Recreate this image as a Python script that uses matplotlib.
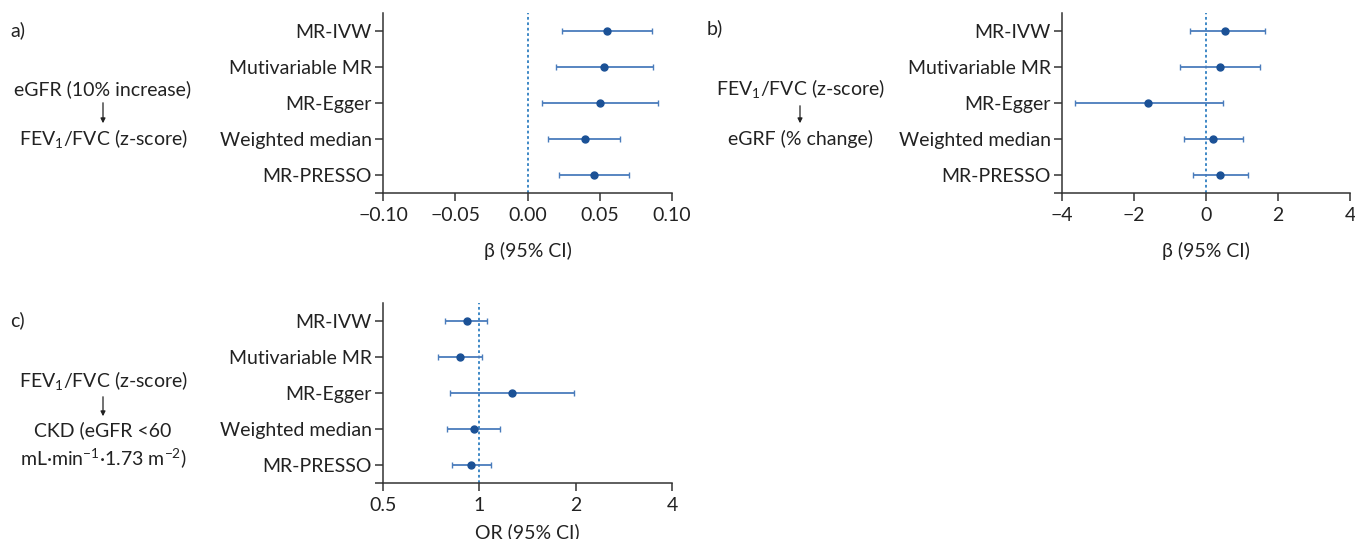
import matplotlib
matplotlib.use("Agg")
import matplotlib.pyplot as plt
import numpy as np

plt.rcParams["font.family"] = ["Lato", "DejaVu Sans"]
plt.rcParams["mathtext.fontset"] = "custom"
plt.rcParams["mathtext.rm"] = "Lato"
plt.rcParams["mathtext.it"] = "Lato:italic"
plt.rcParams["axes.unicode_minus"] = True

methods = ["MR-IVW", "Mutivariable MR", "MR-Egger", "Weighted median", "MR-PRESSO"]

# panel a: eGFR -> FEV1/FVC
a_est = [0.055, 0.053, 0.050, 0.040, 0.046]
a_lo = [0.024, 0.020, 0.010, 0.014, 0.022]
a_hi = [0.086, 0.087, 0.090, 0.064, 0.070]

# panel b: FEV1/FVC -> eGFR
b_est = [0.53, 0.38, -1.62, 0.20, 0.40]
b_lo = [-0.45, -0.72, -3.63, -0.61, -0.37]
b_hi = [1.63, 1.51, 0.46, 1.02, 1.17]

# panel c: FEV1/FVC -> CKD (odds ratio)
c_est = [0.916, 0.871, 1.268, 0.959, 0.939]
c_lo = [0.781, 0.742, 0.812, 0.792, 0.820]
c_hi = [1.055, 1.022, 1.980, 1.162, 1.091]

W, H = 1355, 539
fig = plt.figure(figsize=(W / 100, H / 100), dpi=100)

PT = "#1b5196"
BAR = "#4a7cbc"
REF = "#2f7fc1"
FS = 14


def px_axes(x0, y0, x1, y1):
    return fig.add_axes([x0 / W, 1 - y1 / H, (x1 - x0) / W, (y1 - y0) / H])


def ftext(x, y, s, **kw):
    fig.text(x / W, 1 - y / H, s, fontsize=FS, color="#222222",
             va="center", **kw)


def arrow(x, y0, y1):
    fig.add_artist(matplotlib.patches.FancyArrowPatch(
        (x / W, 1 - y0 / H), (x / W, 1 - y1 / H), transform=fig.transFigure,
        arrowstyle="-|>", mutation_scale=7, lw=0.9, color="#222222"))


def forest(ax, est, lo, hi, ref, xlabel):
    y = np.arange(len(methods))
    est = np.array(est)
    err = [est - np.array(lo), np.array(hi) - est]
    ax.axvline(ref, color=REF, ls=(0, (1.5, 1.5)), lw=1.3, zorder=1)
    ax.errorbar(est, y, xerr=err, fmt="none", ecolor=BAR, elinewidth=1.3,
                capsize=2.5, capthick=1.0, zorder=2)
    ax.plot(est, y, "o", color=PT, ms=5, zorder=3)
    ax.set_ylim(4.5, -0.5)
    ax.set_yticks(y)
    ax.set_yticklabels(methods)
    ax.set_yticks([4.5], minor=True)
    for s in ["top", "right"]:
        ax.spines[s].set_visible(False)
    for s in ["left", "bottom"]:
        ax.spines[s].set_linewidth(1.1)
        ax.spines[s].set_color("#333333")
    ax.tick_params(axis="both", which="both", length=6, width=1.1,
                   colors="#333333", labelsize=FS, labelcolor="#222222")
    ax.tick_params(axis="y", pad=2)
    ax.tick_params(axis="x", pad=4)
    ax.set_xlabel(xlabel, fontsize=FS, color="#222222", labelpad=13)


# panel a
ax_a = px_axes(383, 13, 672, 193)
forest(ax_a, a_est, a_lo, a_hi, 0.0, "β (95% CI)")
ax_a.set_xlim(-0.10, 0.10)
ax_a.set_xticks([-0.10, -0.05, 0.0, 0.05, 0.10])
ax_a.set_xticklabels(["−0.10", "−0.05", "0.00", "0.05", "0.10"])

# panel b
ax_b = px_axes(1062, 13, 1350, 193)
forest(ax_b, b_est, b_lo, b_hi, 0.0, "β (95% CI)")
ax_b.set_xlim(-4, 4)
ax_b.set_xticks([-4, -2, 0, 2, 4])
ax_b.set_xticklabels(["−4", "−2", "0", "2", "4"])

# panel c
ax_c = px_axes(383, 303, 672, 483)
forest(ax_c, c_est, c_lo, c_hi, 1.0, "OR (95% CI)")
ax_c.set_xscale("log", base=2)
ax_c.set_xlim(0.5, 4)
ax_c.set_xticks([0.5, 1, 2, 4])
ax_c.set_xticklabels(["0.5", "1", "2", "4"])
ax_c.xaxis.set_minor_locator(matplotlib.ticker.NullLocator())
ax_c.xaxis.labelpad = 7

# side labels
ftext(10, 30, "a)", ha="left")
ftext(103, 89, "eGFR (10% increase)", ha="center")
arrow(103, 100, 126)
ftext(103, 139, "FEV$_1$/FVC (z-score)", ha="center")

ftext(707, 28, "b)", ha="left")
ftext(800, 89, "FEV$_1$/FVC (z-score)", ha="center")
arrow(800, 103, 126)
ftext(800, 139, "eGRF (% change)", ha="center")

ftext(10, 320, "c)", ha="left")
ftext(103, 380, "FEV$_1$/FVC (z-score)", ha="center")
arrow(103, 394, 419)
ftext(103, 430, "CKD (eGFR <60", ha="center")
ftext(103, 458, "mL·min$^{−1}$·1.73 m$^{−2}$)", ha="center")

fig.savefig("out.png", dpi=100)
